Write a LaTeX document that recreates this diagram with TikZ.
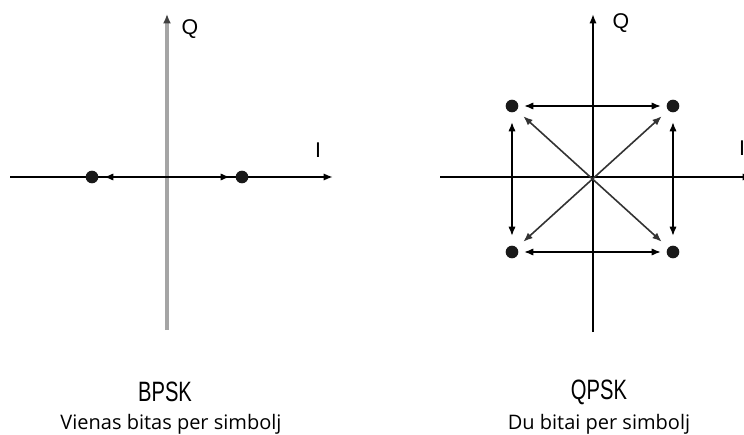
\documentclass[tikz,border=0pt]{standalone}
\usepackage{fontspec}
\setmainfont{Liberation Sans}
\newfontfamily\siaurasfont[FakeStretch=0.72]{Liberation Sans}
\newfontfamily\aprasfont{Open Sans}
\usetikzlibrary{arrows.meta}
\definecolor{asispilka}{RGB}{165,165,165}
\tikzset{
    taskas/.style={circle, fill=black!90, inner sep=0pt, minimum size=9.5pt},
    asis/.style={draw=black, line width=1.4pt, -{Latex[length=7pt, width=5.5pt]}},
    pilkaasis/.style={draw=asispilka, line width=2.6pt, -{Latex[length=7pt, width=6pt, color=black!75]}},
    rodykle/.style={draw=black, line width=1.4pt, {Latex[length=7pt, width=5.5pt]}-{Latex[length=7pt, width=5.5pt]}, shorten <=4pt, shorten >=4pt},
    istrizaine/.style={rodykle, draw=black!80, line width=1.2pt, shorten <=6.5pt, shorten >=6.5pt},
    asiszyme/.style={font=\fontsize{16}{16}\selectfont},
    pavadinimas/.style={font=\siaurasfont\fontsize{21}{21}\selectfont},
    aprasas/.style={font=\aprasfont\fontsize{15}{15}\selectfont}
}

\begin{document}
\begin{tikzpicture}[x=0.75pt, y=-0.75pt]
    \useasboundingbox (0,0) rectangle (744,435);
    % BPSK
    \coordinate (bI0) at (10,177);
    \coordinate (bI1) at (333,177);
    \coordinate (bQ0) at (167,330);
    \coordinate (bQ1) at (167,14);
    \draw[pilkaasis] (bQ0) -- (bQ1);
    \draw[asis] (bI0) -- (bI1);
    \node[taskas] (b0) at (92,177) {};
    \node[taskas] (b1) at (242,177) {};
    \draw[rodykle] (b0) -- (b1);
    \node[asiszyme] (bQ) at (190,29) {Q};
    \node[asiszyme] (bI) at (318,150) {I};
    \node[pavadinimas] (bpsk) at (165,392) {BPSK};
    \node[aprasas] (bpskapr) at (171,424) {Vienas bitas per simbolj};
    % QPSK
    \coordinate (qI0) at (440,177);
    \coordinate (qI1) at (752,177);
    \coordinate (qQ0) at (593,332);
    \coordinate (qQ1) at (593,14);
    \draw[asis] (qI0) -- (qI1);
    \draw[asis] (qQ0) -- (qQ1);
    \node[taskas] (q1) at (673,106) {};
    \node[taskas] (q2) at (512,106) {};
    \node[taskas] (q3) at (512,252) {};
    \node[taskas] (q4) at (673,252) {};
    \draw[rodykle] (q2) -- (q1);
    \draw[rodykle] (q3) -- (q4);
    \draw[rodykle, shorten <=7pt, shorten >=7pt] (q2) -- (q3);
    \draw[rodykle, shorten <=7pt, shorten >=7pt] (q1) -- (q4);
    \draw[istrizaine] (q2) -- (q4);
    \draw[istrizaine] (q3) -- (q1);
    \node[asiszyme] (qQ) at (621,23) {Q};
    \node[asiszyme] (qI) at (742,148) {I};
    \node[pavadinimas] (qpsk) at (599,392) {QPSK};
    \node[aprasas] (qpskapr) at (599,424) {Du bitai per simbolj};
\end{tikzpicture}
\end{document}
